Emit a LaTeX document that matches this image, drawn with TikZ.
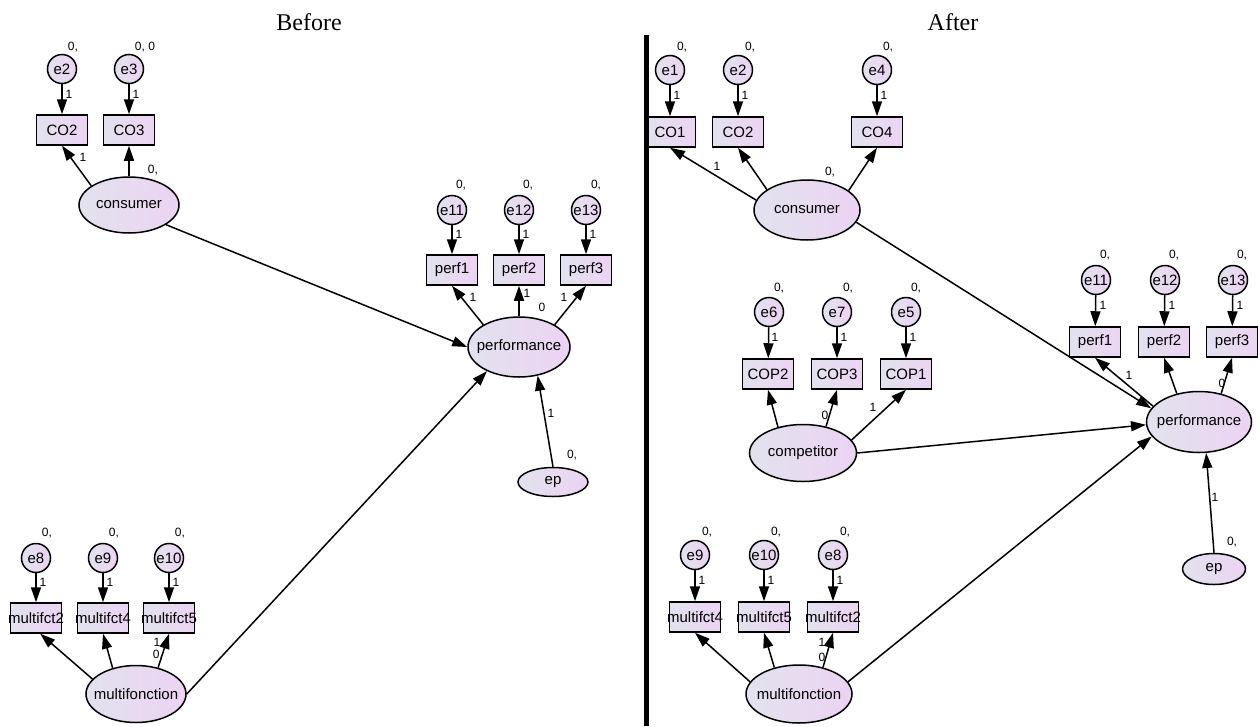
\documentclass[tikz,border=0pt]{standalone}
\usepackage{fontspec}
\setmainfont{Liberation Sans}
\newfontfamily\titlefont{Liberation Serif}
\usetikzlibrary{shapes.geometric,arrows.meta}
\definecolor{gL}{HTML}{E2E2EE}
\definecolor{gR}{HTML}{ECD3F3}
\newcommand\zb[1]{\makebox[0pt]{#1}}
\begin{document}
\begin{tikzpicture}[x=1pt,y=-1pt,
  base/.style={draw=black, line width=1.5pt, left color=gL, right color=gR, inner sep=0pt, font=\fontsize{15}{15}\selectfont},
  lat/.style={base, ellipse},
  obs/.style={base, rectangle, minimum width=51pt, minimum height=30pt},
  err/.style={base, circle, minimum size=29pt},
  arr/.style={draw=black, line width=1.5pt, -{Triangle[length=15pt,width=10pt]}},
  num/.style={font=\fontsize{12}{12}\selectfont, inner sep=0pt},
  ttl/.style={font=\titlefont\fontsize{24}{24}\selectfont, inner sep=0pt}]
\useasboundingbox (0,0) rectangle (1260,726);
% titles
\node[ttl] (tb) at (309,22) {Before};
\node[ttl] (ta) at (953,22) {After};
% ---------------- LEFT ----------------
\node[err] (Le2) at (62,69) {\zb{e2}};
\node[err] (Le3) at (129,69) {\zb{e3}};
\node[obs] (LCO2) at (62,130) {\zb{CO2}};
\node[obs] (LCO3) at (129,130) {\zb{CO3}};
\node[lat, minimum width=100pt, minimum height=56pt] (Lcons) at (129,205) {\zb{consumer}};
\node[err] (Le11) at (452,210) {\zb{e11}};
\node[err] (Le12) at (519,210) {\zb{e12}};
\node[err] (Le13) at (586,210) {\zb{e13}};
\node[obs] (Lp1) at (452,270) {\zb{perf1}};
\node[obs] (Lp2) at (519,270) {\zb{perf2}};
\node[obs] (Lp3) at (586,270) {\zb{perf3}};
\node[lat, minimum width=102pt, minimum height=60pt] (Lperf) at (519,347) {\zb{performance}};
\node[lat, minimum width=70pt, minimum height=29pt] (Lep) at (553,482) {\zb{ep}};
\node[err] (Le8) at (36,558) {\zb{e8}};
\node[err] (Le9) at (103,558) {\zb{e9}};
\node[err] (Le10) at (169,558) {\zb{e10}};
\node[obs] (Lm2) at (36,618) {\zb{multifct2}};
\node[obs] (Lm4) at (103,618) {\zb{multifct4}};
\node[obs] (Lm5) at (169,618) {\zb{multifct5}};
\node[lat, minimum width=100pt, minimum height=57pt] (Lmf) at (136,694) {\zb{multifonction}};
% left arrows
\draw[arr] (Le2) -- (LCO2);
\draw[arr] (Le3) -- (LCO3);
\draw[arr] (Le11) -- (Lp1);
\draw[arr] (Le12) -- (Lp2);
\draw[arr] (Le13) -- (Lp3);
\draw[arr] (Le8) -- (Lm2);
\draw[arr] (Le9) -- (Lm4);
\draw[arr] (Le10) -- (Lm5);
\draw[arr] (Lcons.153) -- (LCO2.south);
\draw[arr] (Lcons.north) -- (LCO3.south);
\draw[arr] (Lcons.-28) -- (Lperf.west);
\draw[arr] (Lmf.east) -- (Lperf.217);
\draw[arr] (Lep.north) -- (Lperf.-57);
\draw[arr] (Lperf.148) -- (Lp1.south);
\draw[arr] (Lperf.north) -- (Lp2.south);
\draw[arr] (Lperf.32) -- (Lp3.south);
\draw[arr] (Lmf.161) -- (Lm2.-75);
\draw[arr] (Lmf.132) -- (Lm4.south);
\draw[arr] (Lmf.50) -- (Lm5.south);
% left labels
\node[num] (l1) at (73,47) {0,};
\node[num] (l2) at (145,47) {0, 0};
\node[num] (l3) at (69,94) {1};
\node[num] (l4) at (136,94) {1};
\node[num] (l5) at (83,157) {1};
\node[num] (l6) at (153,170) {0,};
\node[num] (l7) at (461,185) {0,};
\node[num] (l8) at (528,185) {0,};
\node[num] (l9) at (596,185) {0,};
\node[num] (l10) at (459,234) {1};
\node[num] (l11) at (526,234) {1};
\node[num] (l12) at (593,234) {1};
\node[num] (l13) at (473,297) {1};
\node[num] (l14) at (527,293) {1};
\node[num] (l15) at (542,307) {0};
\node[num] (l16) at (564,297) {1};
\node[num] (l17) at (551,413) {1};
\node[num] (l18) at (572,455) {0,};
\node[num] (l19) at (47,533) {0,};
\node[num] (l20) at (114,533) {0,};
\node[num] (l21) at (180,533) {0,};
\node[num] (l22) at (43,582) {1};
\node[num] (l23) at (110,582) {1};
\node[num] (l24) at (176,582) {1};
\node[num] (l25) at (157,642) {1};
\node[num] (l26) at (158,655) {0,};
% ---------------- RIGHT ----------------
\node[err] (Re1) at (670,70) {\zb{e1}};
\node[err] (Re2) at (738,70) {\zb{e2}};
\node[err] (Re4) at (877,70) {\zb{e4}};
\node[obs] (RCO1) at (670,132) {\zb{CO1}};
\node[obs] (RCO2) at (738,132) {\zb{CO2}};
\node[obs] (RCO4) at (877,132) {\zb{CO4}};
\node[lat, minimum width=106pt, minimum height=60pt] (Rcons) at (807,210) {\zb{consumer}};
\node[err] (Re6) at (769,312) {\zb{e6}};
\node[err] (Re7) at (837,312) {\zb{e7}};
\node[err] (Re5) at (906,312) {\zb{e5}};
\node[obs] (RCOP2) at (768,374) {\zb{COP2}};
\node[obs] (RCOP3) at (837,374) {\zb{COP3}};
\node[obs] (RCOP1) at (906,374) {\zb{COP1}};
\node[lat, minimum width=107pt, minimum height=57pt] (Rcomp) at (803,453) {\zb{competitor}};
\node[err] (Re11) at (1096,280) {\zb{e11}};
\node[err] (Re12) at (1165,280) {\zb{e12}};
\node[err] (Re13) at (1233,280) {\zb{e13}};
\node[obs] (Rp1) at (1095,342) {\zb{perf1}};
\node[obs] (Rp2) at (1164,342) {\zb{perf2}};
\node[obs] (Rp3) at (1232,342) {\zb{perf3}};
\node[lat, minimum width=105pt, minimum height=61pt] (Rperf) at (1199,422) {\zb{performance}};
\node[lat, minimum width=63pt, minimum height=31pt] (Rep) at (1214,569) {\zb{ep}};
\node[err] (Re9) at (695,555) {\zb{e9}};
\node[err] (Re10) at (764,555) {\zb{e10}};
\node[err] (Re8) at (833,555) {\zb{e8}};
\node[obs] (Rm4) at (695,617) {\zb{multifct4}};
\node[obs] (Rm5) at (764,617) {\zb{multifct5}};
\node[obs] (Rm2) at (833,617) {\zb{multifct2}};
\node[lat, minimum width=106pt, minimum height=58pt] (Rmf) at (799,694) {\zb{multifonction}};
% right arrows
\draw[arr] (Re1) -- (RCO1);
\draw[arr] (Re2) -- (RCO2);
\draw[arr] (Re4) -- (RCO4);
\draw[arr] (Re6) -- (RCOP2);
\draw[arr] (Re7) -- (RCOP3);
\draw[arr] (Re5) -- (RCOP1);
\draw[arr] (Re11) -- (Rp1);
\draw[arr] (Re12) -- (Rp2);
\draw[arr] (Re13) -- (Rp3);
\draw[arr] (Re9) -- (Rm4);
\draw[arr] (Re10) -- (Rm5);
\draw[arr] (Re8) -- (Rm2);
\draw[arr] (Rcons.169) -- (RCO1.south);
\draw[arr] (Rcons.153) -- (RCO2.south);
\draw[arr] (Rcons.25) -- (RCO4.south);
\draw[arr] (Rcons.-14) -- (Rperf.164);
\draw[arr] (Rcomp.134) -- (RCOP2.south);
\draw[arr] (Rcomp.49) -- (RCOP3.south);
\draw[arr] (Rcomp.15) -- (RCOP1.south);
\draw[arr] (Rcomp.east) -- (Rperf.183);
\draw[arr] (Rmf.14) -- (Rperf.197);
\draw[arr] (Rep.north) -- (Rperf.-77);
\draw[arr] (Rperf.161) -- (Rp1.south);
\draw[arr] (Rperf.128) -- (Rp2.south);
\draw[arr] (Rperf.52) -- (Rp3.south);
\draw[arr] (Rmf.166) -- (Rm4.south);
\draw[arr] (Rmf.133) -- (Rm5.south);
\draw[arr] (Rmf.48) -- (Rm2.south);
% right labels
\node[num] (r1) at (682,47) {0,};
\node[num] (r2) at (750,47) {0,};
\node[num] (r3) at (888,47) {0,};
\node[num] (r4) at (677,95) {1};
\node[num] (r5) at (745,95) {1};
\node[num] (r6) at (884,95) {1};
\node[num] (r7) at (717,166) {1};
\node[num] (r8) at (830,172) {0,};
\node[num] (r9) at (779,288) {0,};
\node[num] (r10) at (848,288) {0,};
\node[num] (r11) at (916,288) {0,};
\node[num] (r12) at (775,337) {1};
\node[num] (r13) at (844,337) {1};
\node[num] (r14) at (913,337) {1};
\node[num] (r15) at (825,415) {0};
\node[num] (r16) at (873,407) {1};
\node[num] (r17) at (1105,255) {0,};
\node[num] (r18) at (1174,255) {0,};
\node[num] (r19) at (1242,255) {0,};
\node[num] (r20) at (1103,305) {1};
\node[num] (r21) at (1172,305) {1};
\node[num] (r22) at (1240,305) {1};
\node[num] (r23) at (1129,375) {1};
\node[num] (r24) at (1222,383) {0};
\node[num] (r25) at (1215,497) {1};
\node[num] (r26) at (1232,542) {0,};
\node[num] (r27) at (707,532) {0,};
\node[num] (r28) at (776,532) {0,};
\node[num] (r29) at (845,532) {0,};
\node[num] (r30) at (702,580) {1};
\node[num] (r31) at (771,580) {1};
\node[num] (r32) at (840,580) {1};
\node[num] (r33) at (822,642) {1};
\node[num] (r34) at (822,657) {0};
% separator bar
\fill[black] (644,35) rectangle (649,726);
\end{tikzpicture}
\end{document}
